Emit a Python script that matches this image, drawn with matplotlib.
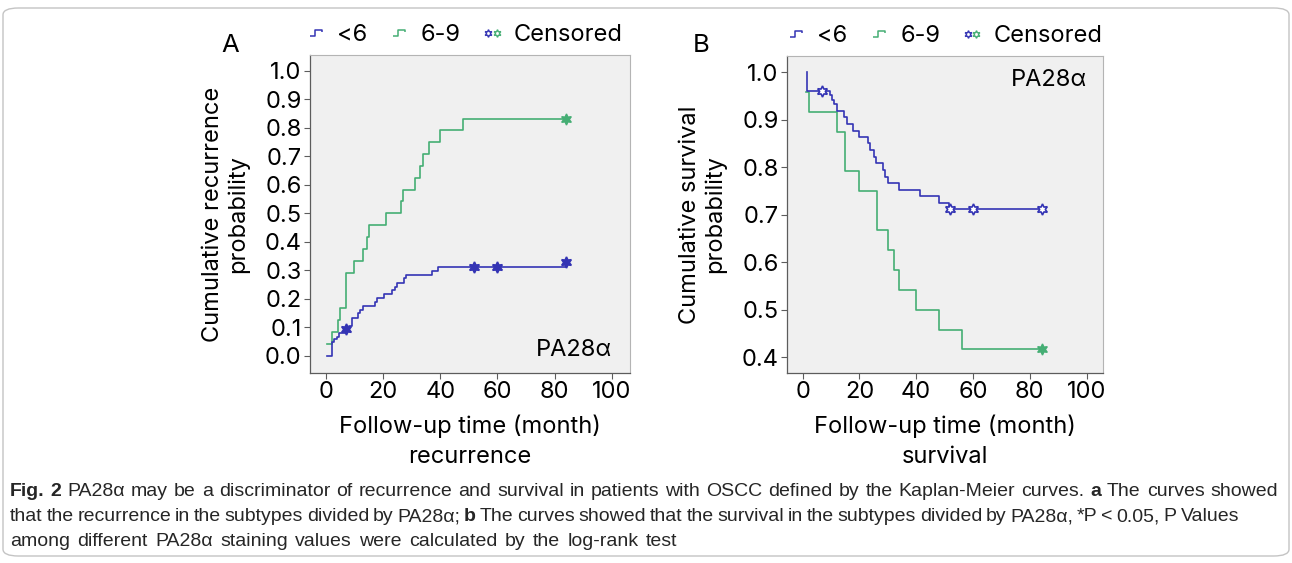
import matplotlib
matplotlib.use("Agg")
import matplotlib.pyplot as plt
from matplotlib.path import Path
from matplotlib.lines import Line2D
from matplotlib.legend_handler import HandlerTuple
from matplotlib.patches import FancyBboxPatch

# ---- data ----
# A: cumulative recurrence, group "<6"
a_low_t = [0.2, 2.1, 2.8, 3.7, 4.4, 7.0, 8.0, 9.1, 11.1, 12.0, 12.9, 17.0, 18.0, 20.2,
           23.1, 24.0, 25.0, 27.2, 28.1, 37.1, 39.1, 83.9]
a_low_p = [0.0, 0.050, 0.058, 0.068, 0.080, 0.094, 0.106, 0.134, 0.150, 0.161, 0.175, 0.188,
           0.202, 0.216, 0.232, 0.243, 0.257, 0.273, 0.285, 0.299, 0.313, 0.313]
a_low_cens_t = [7.0, 51.9, 60.0, 83.9]
a_low_cens_p = [0.094, 0.313, 0.313, 0.328]
# A: group "6-9"
a_mid_t = [0.2, 2.0, 4.1, 5.0, 7.0, 9.9, 13.1, 14.2, 15.0, 21.1, 26.1, 27.1, 31.2, 33.0,
           34.1, 36.1, 40.0, 48.1, 83.9]
a_mid_p = [0.042, 0.083, 0.125, 0.167, 0.292, 0.333, 0.375, 0.417, 0.458, 0.500, 0.542,
           0.583, 0.625, 0.667, 0.708, 0.750, 0.792, 0.833, 0.833]
a_mid_cens_t = [83.9]
a_mid_cens_p = [0.833]

# B: cumulative survival, group "<6"
b_low_t = [1.5, 1.5, 9.7, 10.4, 11.2, 12.1, 14.7, 15.8, 17.7, 20.0, 23.0, 23.8, 25.0, 25.9,
           28.3, 29.1, 30.0, 34.0, 41.2, 48.1, 51.4, 84.3]
b_low_p = [1.0, 0.961, 0.952, 0.942, 0.933, 0.919, 0.905, 0.891, 0.877, 0.863, 0.850, 0.836,
           0.822, 0.808, 0.794, 0.780, 0.766, 0.753, 0.739, 0.725, 0.712, 0.712]
b_low_cens_t = [7.0, 51.9, 60.0, 84.3]
b_low_cens_p = [0.961, 0.712, 0.712, 0.712]
# B: group "6-9"
b_mid_t = [1.2, 2.1, 12.0, 15.1, 20.0, 26.1, 30.1, 32.2, 34.1, 40.0, 48.2, 56.2, 84.3]
b_mid_p = [0.958, 0.917, 0.875, 0.792, 0.750, 0.667, 0.625, 0.583, 0.542, 0.500, 0.458,
           0.417, 0.417]
b_mid_cens_t = [84.3]
b_mid_cens_p = [0.417]

groups = ["<6", "6-9"]
x_ticks = [0, 20, 40, 60, 80, 100]
a_y_ticks = [0.0, 0.1, 0.2, 0.3, 0.4, 0.5, 0.6, 0.7, 0.8, 0.9, 1.0]
b_y_ticks = [0.4, 0.5, 0.6, 0.7, 0.8, 0.9, 1.0]

caption = [
    [("Fig. 2", True), ("PA28α may be a discriminator of recurrence and survival in patients "
                        "with OSCC defined by the Kaplan-Meier curves.", False),
     ("a", True), ("The curves showed", False)],
    [("that the recurrence in the subtypes divided by PA28α;", False), ("b", True),
     ("The curves showed that the survival in the subtypes divided by PA28α, *P < 0.05, "
      "P Values", False)],
    [("among different PA28α staining values were calculated by the log-rank test", False)],
]
# right end (px) of each caption line in print
caption_ends = [1278, 1221, 700]

BLUE = "#3434b4"
GREEN = "#45ae74"
plt.rcParams["font.family"] = ["Inter", "Liberation Sans", "DejaVu Sans"]

fig = plt.figure(figsize=(12.92, 5.63), dpi=100)

STEP = Path([(-1, -0.5), (-0.15, -0.5), (-0.15, 0.5), (1, 0.5), (1, 0.15)])
STAR = (6, 1, 0)


def km_panel(ax, lo_t, lo_p, lo_ct, lo_cp, mid_t, mid_p, mid_ct, mid_cp, lo_face, leg_x):
    ax.set_facecolor("#f0f0f0")
    ax.step(mid_t, mid_p, where="post", color=GREEN, lw=1.2)
    ax.step(lo_t, lo_p, where="post", color=BLUE, lw=1.2)
    ax.plot(mid_ct, mid_cp, ls="none", marker=STAR, ms=8, color=GREEN, mfc=GREEN, mew=1.0)
    ax.plot(lo_ct, lo_cp, ls="none", marker=STAR, ms=8, color=BLUE, mfc=lo_face, mew=1.2)
    for s in ("top", "right"):
        ax.spines[s].set_color("#b4b4b4")
        ax.spines[s].set_linewidth(0.8)
    for s in ("left", "bottom"):
        ax.spines[s].set_color("#5c5c5c")
        ax.spines[s].set_linewidth(0.9)
    ax.tick_params(direction="out", length=4, width=0.8, color="#5c5c5c",
                   labelsize=17, pad=2)
    ax.set_xticks(x_ticks)

    h_lo = Line2D([], [], ls="none", marker=STEP, ms=8, mfc="none", mec=BLUE, mew=1.1)
    h_mid = Line2D([], [], ls="none", marker=STEP, ms=8, mfc="none", mec=GREEN, mew=1.1)
    c_lo = Line2D([], [], ls="none", marker=STAR, ms=5.5, color=BLUE, mfc="white", mew=1.0)
    c_mid = Line2D([], [], ls="none", marker=STAR, ms=5.5, color=GREEN, mfc="white", mew=1.0)
    ax.legend([h_lo, h_mid, (c_lo, c_mid)], groups + ["Censored"],
              handler_map={tuple: HandlerTuple(ndivide=None, pad=0.0)},
              loc="center", bbox_to_anchor=(leg_x, 1.063), ncol=3, frameon=False,
              fontsize=17, handlelength=0.7, handletextpad=0.55, columnspacing=1.0,
              borderpad=0, borderaxespad=0)


def labels(ax, ylab, xlab):
    ax.set_ylabel(ylab, fontsize=17, labelpad=11, linespacing=1.15)
    ax.set_xlabel(xlab, fontsize=17, labelpad=8, linespacing=1.45)


# panel A
axA = fig.add_axes([310 / 1292, 190 / 563, 320 / 1292, 318 / 563])
km_panel(axA, a_low_t, a_low_p, a_low_cens_t, a_low_cens_p,
         a_mid_t, a_mid_p, a_mid_cens_t, a_mid_cens_p, BLUE, 0.485)
axA.set_xlim(-5.6, 106.4)
axA.set_ylim(-0.06, 1.056)
axA.set_yticks(a_y_ticks)
axA.set_yticklabels([f"{v:.1f}" for v in a_y_ticks])
labels(axA, "Cumulative recurrence\nprobability", "Follow-up time (month)\nrecurrence")
axA.text(0.945, 0.072, "PA28α", transform=axA.transAxes, ha="right", va="center",
         fontsize=17)

# panel B
axB = fig.add_axes([787 / 1292, 190 / 563, 316 / 1292, 317 / 563])
km_panel(axB, b_low_t, b_low_p, b_low_cens_t, b_low_cens_p,
         b_mid_t, b_mid_p, b_mid_cens_t, b_mid_cens_p, "white", 0.5)
axB.set_xlim(-5.5, 105.8)
axB.set_ylim(0.367, 1.034)
axB.set_yticks(b_y_ticks)
axB.set_yticklabels([f"{v:.1f}" for v in b_y_ticks])
labels(axB, "Cumulative survival\nprobability", "Follow-up time (month)\nsurvival")
axB.text(0.948, 0.924, "PA28α", transform=axB.transAxes, ha="right", va="center",
         fontsize=17)

fig.text(230 / 1292, 1 - 45 / 563, "A", ha="center", va="center", fontsize=18.5)
fig.text(701 / 1292, 1 - 45 / 563, "B", ha="center", va="center", fontsize=18.5)

# rounded frame around figure + caption
fig.patches.append(FancyBboxPatch((3 / 1292, 7 / 563), 1286 / 1292, 548 / 563,
                                  boxstyle="round,pad=0,rounding_size=0.012",
                                  transform=fig.transFigure, fill=False,
                                  ec="#c4c4c4", lw=1.0))

# caption: word by word, so bold and regular mix; word gaps nudged (within limits)
# towards the printed line ends
renderer = fig.canvas.get_renderer()
cap_size = 14
cap_font = ["Liberation Sans", "DejaVu Sans"]
probe = [fig.text(0, 0, s, fontsize=cap_size, family=cap_font) for s in ("a a", "aa")]
space = probe[0].get_window_extent(renderer).width - probe[1].get_window_extent(renderer).width
for t in probe:
    t.remove()
for i, line in enumerate(caption):
    words = []
    for txt, bold in line:
        for w in txt.split(" "):
            t = fig.text(0, (563 - (496 + 25 * i)) / 563, w, fontsize=cap_size,
                         family=cap_font, color="#262626",
                         fontweight="bold" if bold else "normal", va="baseline")
            words.append((t, t.get_window_extent(renderer).width))
    gap = (caption_ends[i] - 10 - sum(w for _, w in words)) / (len(words) - 1)
    gap = min(max(gap, space - 1.6), space + 2.0)
    x = 10
    for t, w in words:
        t.set_x(x / 1292)
        x += w + gap

fig.savefig("out.png", dpi=100)
